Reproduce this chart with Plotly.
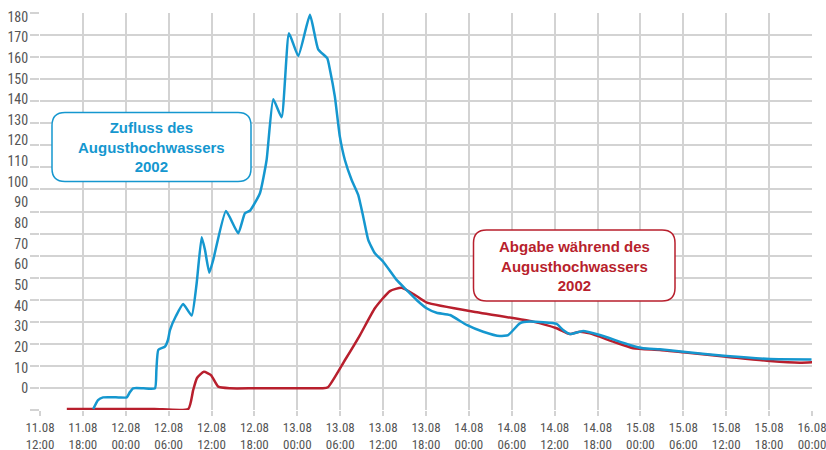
import plotly.graph_objects as go

# ---------------- data ----------------
zufluss_time = [
    "2002-08-11 19:27", "2002-08-11 20:07", "2002-08-11 20:49", "2002-08-11 23:00", "2002-08-12 00:08",
    "2002-08-12 00:35", "2002-08-12 01:01", "2002-08-12 02:30", "2002-08-12 04:05", "2002-08-12 04:17",
    "2002-08-12 04:33", "2002-08-12 05:29", "2002-08-12 05:54", "2002-08-12 06:11", "2002-08-12 07:01",
    "2002-08-12 08:02", "2002-08-12 09:13", "2002-08-12 09:55", "2002-08-12 10:37", "2002-08-12 11:05",
    "2002-08-12 11:41", "2002-08-12 12:14", "2002-08-12 14:01", "2002-08-12 15:44", "2002-08-12 16:40",
    "2002-08-12 17:22", "2002-08-12 18:46", "2002-08-12 19:42", "2002-08-12 20:38", "2002-08-12 21:48",
    "2002-08-12 22:50", "2002-08-13 00:08", "2002-08-13 01:46", "2002-08-13 02:55", "2002-08-13 04:11",
    "2002-08-13 04:34", "2002-08-13 05:15", "2002-08-13 05:57", "2002-08-13 06:39", "2002-08-13 07:36",
    "2002-08-13 08:31", "2002-08-13 09:13", "2002-08-13 09:55", "2002-08-13 10:51", "2002-08-13 12:01",
    "2002-08-13 13:53", "2002-08-13 15:17", "2002-08-13 16:41", "2002-08-13 18:05", "2002-08-13 19:29",
    "2002-08-13 21:21", "2002-08-13 23:41", "2002-08-14 02:00", "2002-08-14 04:20", "2002-08-14 05:30",
    "2002-08-14 07:08", "2002-08-14 08:32", "2002-08-14 12:16", "2002-08-14 13:11", "2002-08-14 14:08",
    "2002-08-14 15:59", "2002-08-14 18:19", "2002-08-14 22:31", "2002-08-15 00:23", "2002-08-15 02:43",
    "2002-08-15 05:58", "2002-08-15 12:02", "2002-08-15 18:06", "2002-08-15 23:56",
]
zufluss_value = [
    -10, -5.7, -4.4, -4.4, -4.4,
    -1.8, 0, 0, 0, 8.9,
    18.6, 20.2, 23.4, 28.2, 35,
    40.8, 35.2, 50.9, 73.2, 67,
    56, 62.2, 85.9, 75.1, 84.8,
    86, 94.5, 110.6, 140, 131.3,
    172, 161, 180.9, 164.2, 159.9,
    154.2, 141.3, 121.9, 110.6, 100.9,
    93.7, 83.1, 71.9, 65.4, 61.3,
    52.5, 47.6, 42.8, 38.8, 36.6,
    35.5, 30.7, 27.4, 25.3, 25.8,
    31.5, 32.3, 31.2, 28.2, 26.3,
    27.8, 25.8, 21, 19.4, 18.9,
    17.7, 15.6, 14.2, 14.0,
]

abgabe_time = [
    "2002-08-11 15:45", "2002-08-11 22:00", "2002-08-12 04:00", "2002-08-12 08:45", "2002-08-12 09:26",
    "2002-08-12 09:58", "2002-08-12 10:56", "2002-08-12 11:55", "2002-08-12 12:56", "2002-08-12 14:34",
    "2002-08-12 18:00", "2002-08-12 22:00", "2002-08-13 01:30", "2002-08-13 03:30", "2002-08-13 04:17",
    "2002-08-13 06:40", "2002-08-13 08:46", "2002-08-13 10:51", "2002-08-13 12:57", "2002-08-13 14:35",
    "2002-08-13 16:27", "2002-08-13 18:08", "2002-08-14 01:32", "2002-08-14 08:57", "2002-08-14 12:16",
    "2002-08-14 14:08", "2002-08-14 15:31", "2002-08-14 16:55", "2002-08-14 20:11", "2002-08-14 22:59",
    "2002-08-15 02:43", "2002-08-15 05:58", "2002-08-15 12:02", "2002-08-15 18:06", "2002-08-15 22:17",
    "2002-08-16 00:23",
]
abgabe_value = [
    -10, -10, -10, -10, -0.8,
    5.0, 8.0, 6.4, 0.8, 0,
    0, 0, 0, 0, 0.5,
    13.7, 25.8, 38.8, 47.1, 48.7,
    45.2, 41.5, 36.6, 32.3, 29.1,
    26.3, 27.4, 26.6, 22.6, 19.4,
    18.6, 17.4, 15.3, 13.2, 12.4,
    12.7,
]

x_tickvals = [
    "2002-08-11 12:00", "2002-08-11 18:00", "2002-08-12 00:00", "2002-08-12 06:00", "2002-08-12 12:00",
    "2002-08-12 18:00", "2002-08-13 00:00", "2002-08-13 06:00", "2002-08-13 12:00", "2002-08-13 18:00",
    "2002-08-14 00:00", "2002-08-14 06:00", "2002-08-14 12:00", "2002-08-14 18:00", "2002-08-15 00:00",
    "2002-08-15 06:00", "2002-08-15 12:00", "2002-08-15 18:00", "2002-08-16 00:00",
]
x_ticktext = [
    "11.08<br>12:00", "11.08<br>18:00", "12.08<br>00:00", "12.08<br>06:00", "12.08<br>12:00",
    "12.08<br>18:00", "13.08<br>00:00", "13.08<br>06:00", "13.08<br>12:00", "13.08<br>18:00",
    "14.08<br>00:00", "14.08<br>06:00", "14.08<br>12:00", "14.08<br>18:00", "15.08<br>00:00",
    "15.08<br>06:00", "15.08<br>12:00", "15.08<br>18:00", "16.08<br>00:00",
]
y_tickvals = [0, 10, 20, 30, 40, 50, 60, 70, 80, 90, 100, 110, 120, 130, 140, 150, 160, 170, 180]

label_zufluss = "Zufluss des<br>Augusthochwassers<br>2002"
label_abgabe = "Abgabe während des<br>Augusthochwassers<br>2002"

# ---------------- style ----------------
BLUE = "#1597cf"
RED = "#b81f2d"
GRID = "#d3d3d3"
FONTFAM = "Roboto Condensed, Roboto, sans-serif"
W, H = 826, 450
# target plot area on screen: x 40..812, y 13..410
SX0, SX1, SY0, SY1 = 40, 812, 13, 410
ML, MT, MR, MB = SX0, SY0, W - SX1, H - SY1
PW, PH = SX1 - SX0, SY1 - SY0


def px2paper(px, py):
    return (px - SX0) / PW, (SY1 - py) / PH


def rounded_box(x0, y0, x1, y1, r):
    def P(px, py):
        a, b = px2paper(px, py)
        return f"{a:.5f},{b:.5f}"
    return (f"M {P(x0 + r, y0)} L {P(x1 - r, y0)} Q {P(x1, y0)} {P(x1, y0 + r)} "
            f"L {P(x1, y1 - r)} Q {P(x1, y1)} {P(x1 - r, y1)} L {P(x0 + r, y1)} "
            f"Q {P(x0, y1)} {P(x0, y1 - r)} L {P(x0, y0 + r)} Q {P(x0, y0)} {P(x0 + r, y0)} Z")


fig = go.Figure()

# invisible trace so that the grid axis (y) is created and drawn
fig.add_trace(go.Scatter(x=[x_tickvals[0]], y=[None], yaxis="y", mode="lines",
                         showlegend=False, hoverinfo="skip"))
fig.add_trace(go.Scatter(x=abgabe_time, y=abgabe_value, mode="lines", yaxis="y2",
                         line=dict(color=RED, width=2.5, shape="spline", smoothing=0.5),
                         name="Abgabe", showlegend=False))
fig.add_trace(go.Scatter(x=zufluss_time, y=zufluss_value, mode="lines", yaxis="y2",
                         line=dict(color=BLUE, width=2.5, shape="spline", smoothing=0.45),
                         name="Zufluss", showlegend=False))

y_bottom = -10.51
y_top = 181.8

fig.update_layout(
    width=W, height=H,
    margin=dict(l=ML, r=MR, t=MT, b=MB, autoexpand=False),
    paper_bgcolor="white", plot_bgcolor="white",
    showlegend=False,
    xaxis=dict(
        type="date", automargin=False,
        range=["2002-08-11 12:00", "2002-08-16 00:00"],
        tickvals=x_tickvals, ticktext=x_ticktext,
        showgrid=True, gridcolor=GRID, gridwidth=1.5,
        ticks="outside", ticklen=5, tickcolor=GRID, tickwidth=1.5,
        ticklabeloverflow="allow",
        tickfont=dict(family=FONTFAM, size=13, color="#555555"),
        showline=False, zeroline=False,
    ),
    yaxis=dict(
        automargin=False,
        range=[0, 18], dtick=1, tick0=0,
        showgrid=True, gridcolor=GRID, gridwidth=1.5,
        ticks="outside", ticklen=9, tickcolor=GRID, tickwidth=1.5,
        showticklabels=False, zeroline=False, showline=False,
    ),
    yaxis2=dict(
        overlaying="y", side="left", automargin=False,
        range=[y_bottom, y_top],
        tickvals=y_tickvals,
        showgrid=False, zeroline=False, showline=False,
        ticks="outside", ticklen=8, tickcolor="rgba(0,0,0,0)",
        ticklabeloverflow="allow",
        tickfont=dict(family=FONTFAM, size=14, color="#555555"),
    ),
)

fig.add_shape(type="path", xref="paper", yref="paper",
              path=rounded_box(52, 112.5, 251, 181.5, 13),
              line=dict(color=BLUE, width=1.5), fillcolor="white", layer="above")
fig.add_shape(type="path", xref="paper", yref="paper",
              path=rounded_box(473.5, 230, 675, 301, 13),
              line=dict(color=RED, width=1.5), fillcolor="white", layer="above")

bx, by = px2paper(151, 147.5)
fig.add_annotation(x=bx, y=by, xref="paper", yref="paper", text=label_zufluss,
                   showarrow=False, xanchor="center", yanchor="middle", align="center",
                   font=dict(family="Liberation Sans, Arial, sans-serif", size=15, color=BLUE, weight="bold"))
rx, ry = px2paper(574, 266)
fig.add_annotation(x=rx, y=ry, xref="paper", yref="paper", text=label_abgabe,
                   showarrow=False, xanchor="center", yanchor="middle", align="center",
                   font=dict(family="Liberation Sans, Arial, sans-serif", size=15, color=RED, weight="bold"))

# remove the browser's default 8px body margin so the figure sits at the page origin
fig.write_html("out.html", config={"displayModeBar": False},
               post_script="document.body.style.margin='0';")
